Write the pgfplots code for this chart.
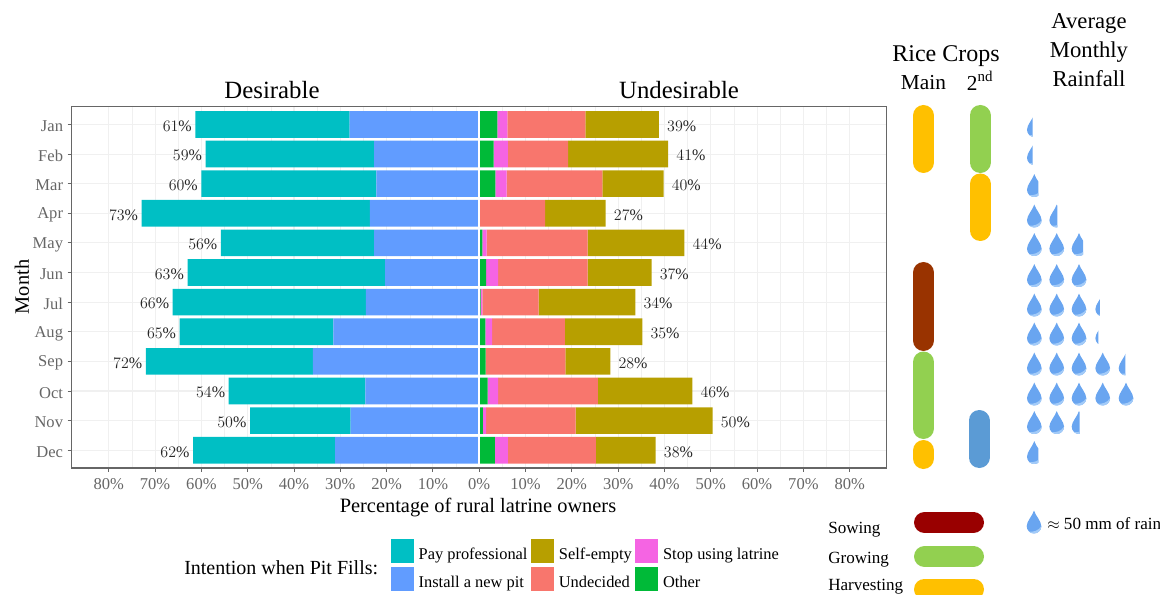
\documentclass[border=0pt]{standalone}
\usepackage{fontspec}
\setmainfont{Liberation Serif}
\usepackage{pgfplots}
\usepackage{pgfplotstable}
\pgfplotsset{compat=1.18}
\definecolor{cteal}{HTML}{00BFC4}
\definecolor{cblue}{HTML}{619CFF}
\definecolor{cgreen}{HTML}{00BA38}
\definecolor{cpink}{HTML}{F564E3}
\definecolor{cred}{HTML}{F8766D}
\definecolor{cgold}{HTML}{B79F00}
\definecolor{frame}{HTML}{666666}
\definecolor{ticktxt}{HTML}{666666}
\definecolor{gridc}{HTML}{F0F0F0}
\definecolor{capO}{HTML}{FFC000}
\definecolor{capG}{HTML}{92D050}
\definecolor{capB}{HTML}{993300}
\definecolor{capR}{HTML}{990000}
\definecolor{capS}{HTML}{5B9BD5}
\definecolor{dropc}{HTML}{69A5F0}
\definecolor{dropl}{HTML}{A3CBF8}
\newcommand{\fs}[1]{\fontsize{#1}{#1}\selectfont}
% drop marks: #1 = name, #2 = visible width in pt (of 11pt)
\newcommand{\defdrop}[2]{%
\pgfdeclareplotmark{#1}{%
\begin{pgfscope}%
\pgfpathrectangle{\pgfqpoint{-5.5pt}{-9pt}}{\pgfqpoint{#2pt}{18pt}}%
\pgfusepathqclip
\pgfpathmoveto{\pgfqpoint{0pt}{8.6pt}}%
\pgfpathcurveto{\pgfqpoint{1pt}{5pt}}{\pgfqpoint{5.5pt}{0.5pt}}{\pgfqpoint{5.5pt}{-3.1pt}}%
\pgfpathcurveto{\pgfqpoint{5.5pt}{-6.2pt}}{\pgfqpoint{3pt}{-8.6pt}}{\pgfqpoint{0pt}{-8.6pt}}%
\pgfpathcurveto{\pgfqpoint{-3pt}{-8.6pt}}{\pgfqpoint{-5.5pt}{-6.2pt}}{\pgfqpoint{-5.5pt}{-3.1pt}}%
\pgfpathcurveto{\pgfqpoint{-5.5pt}{0.5pt}}{\pgfqpoint{-1pt}{5pt}}{\pgfqpoint{0pt}{8.6pt}}%
\pgfpathclose
\pgfusepathqfill
\pgfsetfillcolor{dropl}%
\pgfpathmoveto{\pgfqpoint{5.5pt}{-3.1pt}}%
\pgfpathcurveto{\pgfqpoint{5.5pt}{-6.2pt}}{\pgfqpoint{3pt}{-8.6pt}}{\pgfqpoint{0pt}{-8.6pt}}%
\pgfpathcurveto{\pgfqpoint{-1.5pt}{-8.6pt}}{\pgfqpoint{-2.8pt}{-8.1pt}}{\pgfqpoint{-3.8pt}{-7.2pt}}%
\pgfpathcurveto{\pgfqpoint{-0.5pt}{-7.6pt}}{\pgfqpoint{3.5pt}{-6.5pt}}{\pgfqpoint{5.5pt}{-3.1pt}}%
\pgfpathclose
\pgfusepathqfill
\end{pgfscope}}}
\defdrop{dropF}{11}
\defdrop{dropA}{2.2}
\defdrop{dropB}{3.3}
\defdrop{dropC}{4.2}
\defdrop{dropD}{5}
\defdrop{dropE}{6}
\defdrop{dropG}{8.6}
\pgfplotstableread{
y inst pay other stop undec self ltot rtot
0 -28.0 -33.3 3.9 2.2 16.8 15.9 61.3 38.8
1 -22.7 -36.4 3.1 3.1 13.0 21.6 59.1 40.8
2 -22.2 -37.8 3.5 2.4 20.7 13.2 60.0 39.8
3 -23.6 -49.3 0.0 0.0 14.2 13.1 72.9 27.3
4 -22.7 -33.1 0.7 0.9 21.8 20.9 55.8 44.3
5 -20.3 -42.7 1.5 2.6 19.3 13.8 63.0 37.2
6 -24.5 -41.7 0.3 0.4 12.1 20.9 66.2 33.7
7 -31.5 -33.2 1.3 1.5 15.7 16.7 64.7 35.2
8 -35.9 -36.1 1.4 0.0 17.2 9.7 72.0 28.3
9 -24.6 -29.5 1.8 2.3 21.5 20.4 54.1 46.0
10 -27.8 -21.7 0.8 0.7 19.3 29.6 49.5 50.4
11 -31.1 -30.7 3.4 2.8 19.0 12.9 61.8 38.1
}\lat
\pgfplotstableread{
lx y lab
-61.3 0 61
-59.1 1 59
-60.0 2 60
-72.9 3 73
-55.8 4 56
-63.0 5 63
-66.2 6 66
-64.7 7 65
-72.0 8 72
-54.1 9 54
-49.5 10 50
-61.8 11 62
}\lleft
\pgfplotstableread{
lx y lab
38.8 0 39
40.8 1 41
39.8 2 40
27.3 3 27
44.3 4 44
37.2 5 37
33.7 6 34
35.2 7 35
28.3 8 28
46.0 9 46
50.4 10 50
38.1 11 38
}\lright
\pgfplotsset{panel/.style={
  at={(53.8pt,95.25pt)},anchor=south west,scale only axis,
  width=611.25pt,height=271pt,
  xmin=-88,xmax=88,ymin=-0.6,ymax=11.6,y dir=reverse}}
\begin{document}
\begin{tikzpicture}
\path[use as bounding box] (0,0) rectangle (870pt,446.25pt);
% main panel with left stack
\begin{axis}[panel,
  xbar stacked,bar width=0.9,
  axis line style={draw=frame,line width=1pt},
  tick style={draw=frame,line width=0.7pt},
  tick align=outside,tick pos=left,major tick length=3pt,minor tick length=0pt,
  xtick={-80,-70,...,80},
  xticklabels={80\%,70\%,60\%,50\%,40\%,30\%,20\%,10\%,0\%,10\%,20\%,30\%,40\%,50\%,60\%,70\%,80\%},
  minor x tick num=1,
  ytick={0,...,11},
  yticklabels={Jan,Feb,Mar,Apr,May,Jun,Jul,Aug,Sep,Oct,Nov,Dec},
  ticklabel style={text=ticktxt,font=\fs{12.4}},
  xticklabel style={yshift=-1.7pt},
  yticklabel style={yshift=-1.4pt},
  xmajorgrids,ymajorgrids,xminorgrids,
  major grid style={draw=gridc,line width=0.8pt},
  minor grid style={draw=gridc,line width=0.4pt},
]
\addplot[fill=cblue,draw=none] table[x=inst,y=y]{\lat};
\addplot[fill=cteal,draw=none] table[x=pay,y=y]{\lat};
\end{axis}
% right stack
\begin{axis}[panel,hide axis,xbar stacked,bar width=0.9]
\addplot[fill=cgreen,draw=none] table[x=other,y=y]{\lat};
\addplot[fill=cpink,draw=none] table[x=stop,y=y]{\lat};
\addplot[fill=cred,draw=none] table[x=undec,y=y]{\lat};
\addplot[fill=cgold,draw=none] table[x=self,y=y]{\lat};
\end{axis}
% zero line and total labels
\begin{axis}[panel,hide axis,clip=false]
\addplot[white,line width=1.9pt,forget plot] coordinates {(-0.05,-0.6) (-0.05,11.55)};
\addplot[draw=none,no markers,point meta=explicit,
  nodes near coords={\pgfmathprintnumber{\pgfplotspointmeta}\%},
  every node near coord/.style={anchor=east,inner sep=0pt,xshift=-2.5pt,yshift=-1.2pt,font=\fs{12},text=black!85}]
  table[x=lx,y=y,meta=lab]{\lleft};
\addplot[draw=none,no markers,point meta=explicit,
  nodes near coords={\pgfmathprintnumber{\pgfplotspointmeta}\%},
  every node near coord/.style={anchor=west,inner sep=0pt,xshift=6pt,yshift=-1.2pt,font=\fs{12},text=black!85}]
  table[x=lx,y=y,meta=lab]{\lright};
\end{axis}
% page-wide axis in reference pixels
\begin{axis}[at={(0pt,0pt)},anchor=south west,scale only axis,width=870pt,height=446.25pt,
  xmin=0,xmax=1160,ymin=0,ymax=595,y dir=reverse,hide axis,
  legend columns=3,
  legend cell align=left,
  legend style={at={(0.3368,0.0936)},anchor=north west,draw=none,fill=none,
    font=\fs{12.3},inner sep=0pt,outer sep=0pt,row sep=2pt,
    /tikz/every even column/.style={column sep=0.5pt},
    /tikz/every odd column/.style={column sep=1.5pt}},
  legend image code/.code={\fill[#1,draw=none] (0pt,-6.2pt) rectangle (17.5pt,11.8pt);},
]
% crop capsules
\pgfplotsset{cap/.style={line width=15.75pt,line cap=round}}
\addplot[cap,capO,forget plot] coordinates {(923.5,115.5) (923.5,162.5)};
\addplot[cap,capB,forget plot] coordinates {(923.5,272.5) (923.5,340.5)};
\addplot[cap,capG,forget plot] coordinates {(923.5,362) (923.5,428.5)};
\addplot[cap,capO,forget plot] coordinates {(923.5,450.5) (923.5,458.5)};
\addplot[cap,capG,forget plot] coordinates {(980,115.5) (980,162.5)};
\addplot[cap,capO,forget plot] coordinates {(980,184) (980,230.5)};
\addplot[cap,capS,forget plot] coordinates {(979,420.5) (979,457.5)};
\addplot[cap,capR,forget plot] coordinates {(924.5,522.5) (973.5,522.5)};
\addplot[cap,capG,forget plot] coordinates {(924.5,556.5) (973.5,556.5)};
\addplot[cap,capO,forget plot] coordinates {(924.5,589) (973.5,589)};
% rainfall
\pgfplotsset{dropmark/.style={only marks,mark=#1,mark options={fill=dropc,draw=none},forget plot}}
\addplot[dropmark=dropF] coordinates {
(1034.3,216)(1034.3,244.5)(1056.7,244.5)
(1034.3,275.5)(1056.7,275.5)(1079,275.5)
(1034.3,305)(1056.7,305)(1079,305)
(1034.3,334)(1056.7,334)(1079,334)
(1034.3,364)(1056.7,364)(1079,364)(1102.7,364)
(1034.3,394)(1056.7,394)(1079,394)(1102.7,394)(1126,394)
(1034.3,422.5)(1056.7,422.5)
(1034,522)};
\addplot[dropmark=dropA] coordinates {(1102.7,334)};
\addplot[dropmark=dropB] coordinates {(1102.7,305)};
\addplot[dropmark=dropC] coordinates {(1034.3,125.5)(1034.3,153.5)};
\addplot[dropmark=dropD] coordinates {(1126,364)};
\addplot[dropmark=dropE] coordinates {(1056.7,216)(1079,422.5)};
\addplot[dropmark=dropG] coordinates {(1034.3,185.5)(1079,244.5)(1034.3,452.5)};
% legend
\addlegendimage{fill=cteal}\addlegendentry{Pay professional}
\addlegendimage{fill=cgold}\addlegendentry{Self-empty}
\addlegendimage{fill=cpink}\addlegendentry{Stop using latrine}
\addlegendimage{fill=cblue}\addlegendentry{Install a new pit}
\addlegendimage{fill=cred}\addlegendentry{Undecided}
\addlegendimage{fill=cgreen}\addlegendentry{Other}
% text
\node[font=\fs{18.6}] at (axis cs:272,90) {Desirable};
\node[font=\fs{18.6}] at (axis cs:679,90) {Undesirable};
\node[font=\fs{15.3}] at (axis cs:478,507.5) {Percentage of rural latrine owners};
\node[font=\fs{15.3},rotate=90] at (axis cs:22,287) {Month};
\node[font=\fs{18}] at (axis cs:946,56.5) {Rice Crops};
\node[font=\fs{16}] at (axis cs:923.5,83) {Main};
\node[font=\fs{16}] at (axis cs:980,81) {2\textsuperscript{nd}};
\node[font=\fs{17}] at (axis cs:1089,23) {Average};
\node[font=\fs{17}] at (axis cs:1089,52) {Monthly};
\node[font=\fs{17}] at (axis cs:1089,79) {Rainfall};
\node[font=\fs{15},anchor=west,inner sep=0pt] at (axis cs:184,568) {Intention when Pit Fills:};
\node[font=\fs{12.8},anchor=west,inner sep=0pt] at (axis cs:828,529.5) {Sowing};
\node[font=\fs{12.8},anchor=west,inner sep=0pt] at (axis cs:828,559.5) {Growing};
\node[font=\fs{12.8},anchor=west,inner sep=0pt] at (axis cs:828,586.5) {Harvesting};
\node[font=\fs{12.8},anchor=west,inner sep=0pt] at (axis cs:1047,524) {$\approx$ 50 mm of rain};
\end{axis}
\end{tikzpicture}
\end{document}
